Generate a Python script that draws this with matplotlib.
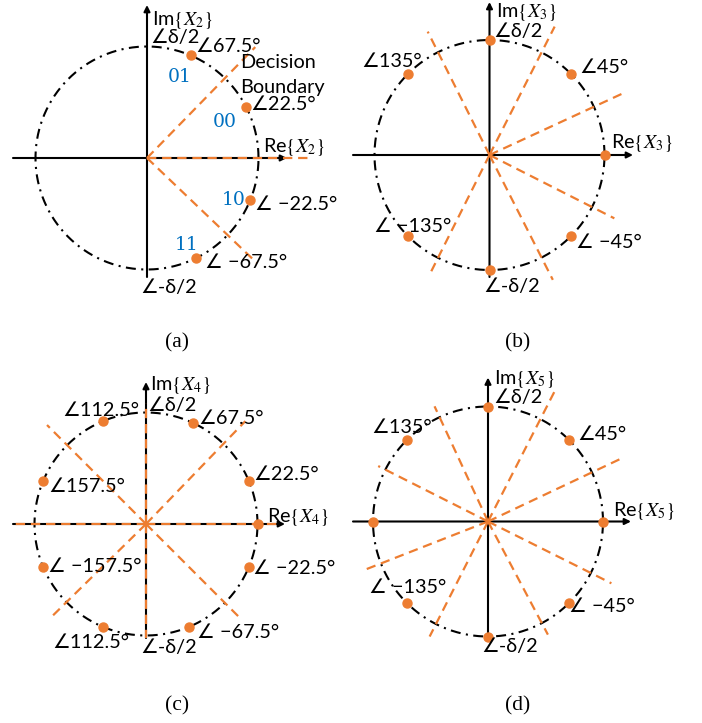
import numpy as np
import matplotlib
matplotlib.use("Agg")
import matplotlib.pyplot as plt

plt.rcParams['mathtext.fontset'] = 'stix'
SANS = ['Lato', 'DejaVu Sans']
ORANGE = '#ED7D31'
BLUE = '#0070C0'

W, H = 702, 723

# ---------------- data ----------------
# constellation point angles (degrees)
pts_a = [67, 27, -22, -64]
pts_b = [90, 45, 0, -45, -90, -135, 135]
pts_c = [112.5, 65, 22.5, 0, -22.5, -67.5, -112.5, -157.5, 157.5]
pts_d = [90, 45, 0, -45, -90, -135, 180, 135]

# decision-boundary rays (angle deg, length px)
rays_a = [(45.7, 155), (0, 166), (-43.7, 152)]
rays_b = [(63.1, 144), (243.4, 130), (116.6, 138), (-63.1, 140), (24.8, 147), (-26.9, 140)]
rays_c = [(0, 136), (180, 133), (90, 121), (-90, 114), (46, 143), (224.5, 134), (135, 140), (-45, 133)]
rays_d = [(62.9, 146), (243.1, 129), (114.9, 127), (-62.1, 128), (25.3, 146), (201.4, 132),
          (153.2, 123), (-26.6, 138)]

# labels: (text, dx, dy)
labels_a = [
    (r"Im$\{X_2\}$", 5, 138), ("∠δ/2", 3, 120), ("∠67.5°", 48, 112),
    ("Decision", 93, 96), ("Boundary", 93, 70), ("∠22.5°", 103, 53),
    (r"Re$\{X_2\}$", 116, 11), ("∠ −22.5°", 108, -47), ("∠ −67.5°", 58, -104),
    ("∠-δ/2", -7, -129)]
bits_a = [("01", 21, 81), ("00", 66, 36), ("10", 75, -42), ("11", 28, -87)]
labels_b = [
    (r"Im$\{X_3\}$", 6.5, 143), ("∠δ/2", 3.5, 123), ("∠135°", -128.5, 93),
    ("∠45°", 89.5, 87), (r"Re$\{X_3\}$", 121.5, 12), ("∠ −135°", -115.5, -72),
    ("∠ −45°", 86.5, -88), ("∠-δ/2", -6.5, -132)]
labels_c = [
    (r"Im$\{X_4\}$", 4, 139), ("∠δ/2", 1, 119), ("∠112.5°", -84, 114),
    ("∠67.5°", 52, 106), ("∠22.5°", 107, 49), ("∠157.5°", -98, 37),
    (r"Re$\{X_4\}$", 121, 7), ("∠ −157.5°", -98, -43), ("∠ −22.5°", 107, -44),
    ("∠112.5°", -94, -119), ("∠ −67.5°", 51, -108), ("∠-δ/2", -6, -123)]
labels_d = [
    (r"Im$\{X_5\}$", 6, 142), ("∠δ/2", 5, 124), ("∠135°", -117, 94),
    ("∠45°", 89, 87), (r"Re$\{X_5\}$", 125, 10), ("∠ −135°", -119, -66),
    ("∠ −45°", 81, -85), ("∠-δ/2", -7, -125)]

captions = ["(a)", "(b)", "(c)", "(d)"]

# ---------------- layout ----------------
panels = [
    dict(o=(147, 158), r=111.5, hx=(-134, 140), vy=(-119, 153), pts=pts_a, rays=rays_a,
         labels=labels_a, bits=bits_a, cap=(30, -185)),
    dict(o=(489.5, 155), r=115, hx=(-136.5, 143.5), vy=(-122, 153), pts=pts_b, rays=rays_b,
         labels=labels_b, bits=[], cap=(28.5, -188)),
    dict(o=(146, 524), r=111.5, hx=(-133, 139), vy=(-114, 142), pts=pts_c, rays=rays_c,
         labels=labels_c, bits=[], cap=(31, -182)),
    dict(o=(488, 521.5), r=115, hx=(-135, 143), vy=(-115, 144), pts=pts_d, rays=rays_d,
         labels=labels_d, bits=[], cap=(30, -184)),
]

fig = plt.figure(figsize=(W / 100, H / 100), dpi=100)

for i, p in enumerate(panels):
    ox, oy = p['o']
    ax = fig.add_axes([0, 0, 1, 1])
    ax.set_xlim(-ox, W - ox)
    ax.set_ylim(oy - H, oy)
    ax.axis('off')
    ax.patch.set_alpha(0)

    ax.annotate('', xy=(p['hx'][1], 0), xytext=(p['hx'][0], 0),
                arrowprops=dict(arrowstyle='-|>', lw=1.5, color='black',
                                mutation_scale=9, shrinkA=0, shrinkB=0), zorder=2)
    ax.annotate('', xy=(0, p['vy'][1]), xytext=(0, p['vy'][0]),
                arrowprops=dict(arrowstyle='-|>', lw=1.5, color='black',
                                mutation_scale=9, shrinkA=0, shrinkB=0), zorder=2)

    t = np.linspace(0, 2 * np.pi, 400)
    ax.plot(p['r'] * np.cos(t), p['r'] * np.sin(t), color='black', lw=1.5,
            linestyle=(0, (4.8, 2.6, 1.0, 2.6)), zorder=3)

    for ang, ln in p['rays']:
        a = np.deg2rad(ang)
        ax.plot([0, ln * np.cos(a)], [0, ln * np.sin(a)], color=ORANGE, lw=1.6,
                linestyle=(0, (4.2, 2.6)), zorder=4)

    ang = np.deg2rad(np.array(p['pts']))
    ax.plot(p['r'] * np.cos(ang), p['r'] * np.sin(ang), 'o', color=ORANGE,
            markersize=6.5, zorder=5)

    for txt, dx, dy in p['labels']:
        ax.text(dx, dy, txt, family=SANS, fontsize=14.3, ha='left', va='center', zorder=6)
    for txt, dx, dy in p['bits']:
        ax.text(dx, dy, txt, family='DejaVu Serif', fontsize=13.5, color=BLUE,
                ha='left', va='center', zorder=6)

    ax.text(p['cap'][0], p['cap'][1], captions[i], family='Liberation Serif', fontsize=15.5,
            ha='center', va='center')

fig.savefig('out.png', dpi=100)
